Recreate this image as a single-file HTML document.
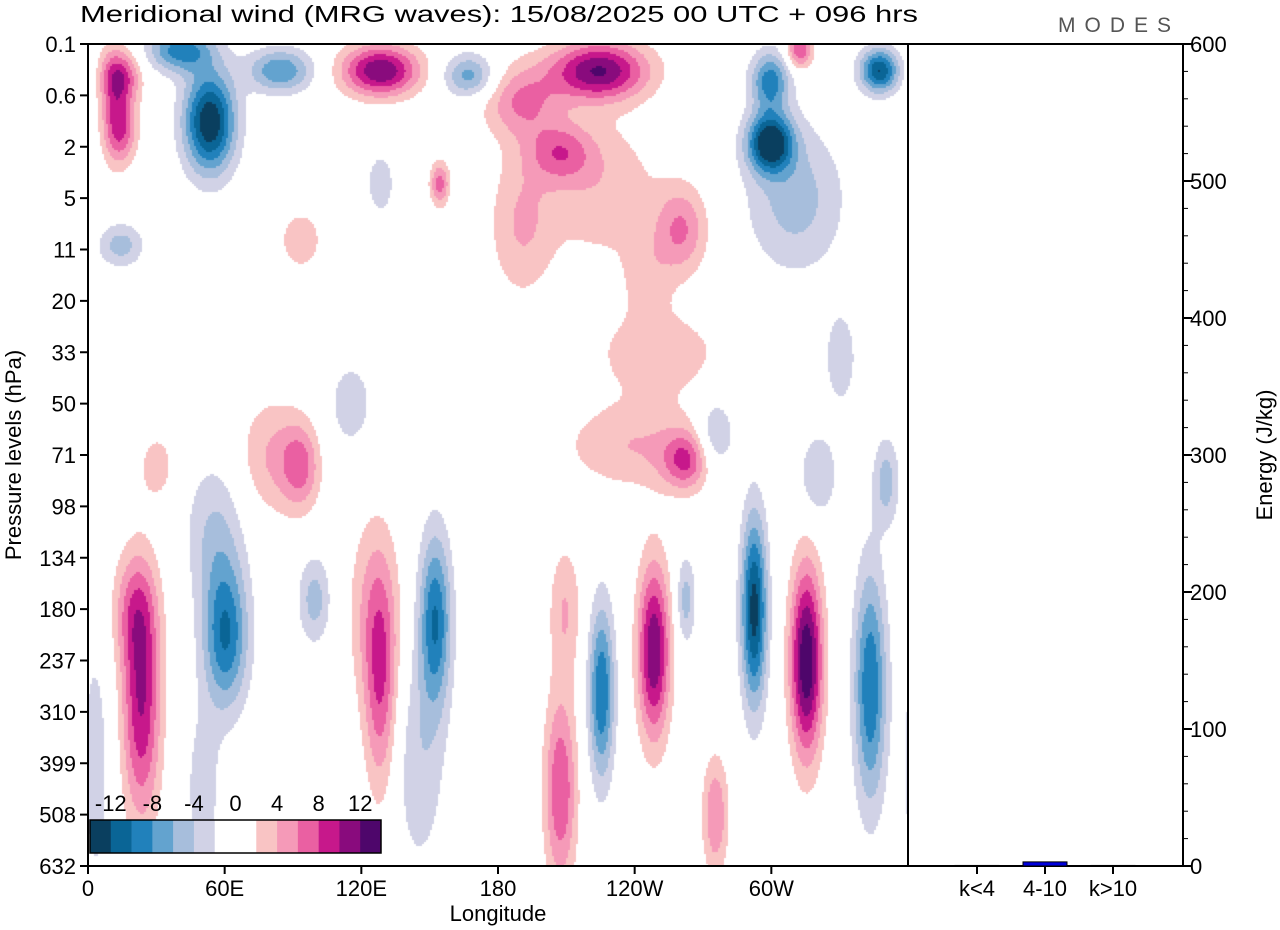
<!DOCTYPE html>
<html><head><meta charset="utf-8">
<style>
html,body{margin:0;padding:0;background:#fff;}
body{width:1280px;height:930px;position:relative;overflow:hidden;font-family:"Liberation Sans",sans-serif;}
#field{position:absolute;left:88px;top:44px;}
svg{position:absolute;left:0;top:0;}
</style></head>
<body>
<canvas id="field" width="820" height="822"></canvas>
<svg id="chart" width="1280" height="930"></svg>
<script>
// ---- data ----
const levelLabels = ['0.1','0.6','2','5','11','20','33','50','71','98','134','180','237','310','399','508','632'];
const lonTicks = [0,60,120,180,240,300];
const lonTickLabels = ['0','60E','120E','180','120W','60W'];
const energyTicks = [0,100,200,300,400,500,600];
const bandLabels = ['k<4','4-10','k>10'];
const bandEnergy = [0.4,3,0.4];
const cbLabels = ['-12','-8','-4','0','4','8','12'];
const cbColors = ['#0a3f5f','#0a6596','#2181bb','#63a3cf','#a7bedc','#d1d2e6','#ffffff','#ffffff','#f9c4c4','#f59ab8','#ea60a2','#c7188b','#890b7d','#4e066b'];
// wave blobs: lon (deg), level index, amplitude (m/s), sigma lon (deg), sigma level
const blobLon = [23,20,60,55,50,99,128,125,152,145,207,209,225,248,262,275,292,315,343,3,
 80,93,30,115,240,262,275,320,350,
 14,14,53,40,84,128,167,224,190,207,225,260,299,299,347,312,310,154,128,14,250,93,330,245,190,10];
const blobLev = [12.8,11,11.5,9.5,14.5,10.8,12.5,11,11.2,14,14.5,11,12.6,11.8,10.8,15,11,12,12.5,14,
 8,8.2,8.2,7,7.8,8.1,7.6,8.4,8.5,
 0.6,1.6,1.5,0.1,0.5,0.5,0.6,0.5,1.1,2.1,2.8,3.6,1.9,0.7,0.5,0.1,3,2.7,2.7,3.9,6,3.8,6.1,4.5,3.5,1];
const blobAmp = [10,5,-10,-4,-3,-5,7,4,-10,-3.5,8,4,-10,12,-5,6,-13,14,-10,-3,
 4,6,3,-3,4,7,-5,-4,-5,
 8,8,-14,-9,-8,12,-7,12,6,6,3.5,6,-14,-9,-12,8,-5,7,-4,-5,3.5,3,-3,2.5,4,3];
const blobSx = [6,7,7,9,6,5,5,8,5,8,5,5,4,5,3,4,4,5,5,5,
 10,6,6,8,22,7,6,6,4,
 6,5,8,10,10,12,8,15,12,10,18,8,7,6,6,4,15,3,4,7,20,8,6,8,10,4];
const blobSy = [1.6,0.8,1.0,1.0,1.2,0.6,1.5,1.3,1.2,1.5,1.3,0.9,1.2,1.2,0.6,0.8,1.3,1.3,1.6,2,
 0.8,0.6,0.5,0.7,0.6,0.4,0.5,0.6,0.6,
 0.35,0.5,0.7,0.3,0.3,0.35,0.3,0.4,0.5,0.4,1,0.6,0.4,0.4,0.3,0.25,1.0,0.3,0.4,0.3,0.6,0.5,0.8,0.6,1,0.8];

// ---- geometry ----
const X0=88,X1=908,Y0=44,Y1=866,PR=1183;
const xLon = lon => X0 + lon/360*(X1-X0);
const yLev = i => Y0 + i*(Y1-Y0)/16;
const yE = e => Y1 - e/600*(Y1-Y0);
const NS='http://www.w3.org/2000/svg';
const svg=document.getElementById('chart');
function mk(tag,attrs,parent){const e=document.createElementNS(NS,tag);for(const k in attrs)e.setAttribute(k,attrs[k]);(parent||svg).appendChild(e);return e;}
function txt(s,x,y,size,anchor,parent){const t=mk('text',{x:x,y:y,'font-size':size,'text-anchor':anchor||'middle','font-family':'Liberation Sans, sans-serif',fill:'#000'},parent);t.textContent=s;return t;}

// ---- field ----
const cv=document.getElementById('field'),ctx=cv.getContext('2d');
const W=cv.width,H=cv.height,img=ctx.createImageData(W,H);
const rgb=cbColors.map(c=>[parseInt(c.substr(1,2),16),parseInt(c.substr(3,2),16),parseInt(c.substr(5,2),16)]);
const step=2;
for(let py=0;py<H;py+=step){
  const lev=py/(H)*16;
  for(let px=0;px<W;px+=step){
    const lon=px/W*360;
    let v=0;
    for(let b=0;b<blobLon.length;b++){
      let dx=lon-blobLon[b]; if(dx>180)dx-=360; if(dx<-180)dx+=360;
      dx/=blobSx[b]; const dy=(lev-blobLev[b])/blobSy[b];
      const q=dx*dx+dy*dy; if(q<16) v+=blobAmp[b]*Math.exp(-0.5*q);
    }
    let bin=Math.floor(v/2)+7; if(bin<0)bin=0; if(bin>13)bin=13;
    const c=rgb[bin];
    for(let yy=py;yy<Math.min(py+step,H);yy++)for(let xx=px;xx<Math.min(px+step,W);xx++){
      const o=(yy*W+xx)*4; img.data[o]=c[0];img.data[o+1]=c[1];img.data[o+2]=c[2];img.data[o+3]=255;}
  }
}
ctx.putImageData(img,0,0);

// ---- title & logo ----
const title=txt('Meridional wind (MRG waves):  15/08/2025  00 UTC  + 096 hrs',80,22,23,'start');
title.setAttribute('textLength','838');title.setAttribute('lengthAdjust','spacingAndGlyphs');

const logo=txt('MODES',1058,32,21,'start');logo.setAttribute('fill','#555');logo.setAttribute('letter-spacing','9');


// ---- frames ----
const frame=mk('rect',{x:X0,y:Y0,width:PR-X0,height:Y1-Y0,fill:'none',stroke:'#000','stroke-width':2});

const div=mk('line',{x1:X1,y1:Y0,x2:X1,y2:Y1,stroke:'#000','stroke-width':2});


// ---- left axis ----
const ya=mk('g',{});
levelLabels.forEach((l,i)=>{const y=yLev(i);mk('line',{x1:X0-8,y1:y,x2:X0,y2:y,stroke:'#000','stroke-width':2},ya);txt(l,X0-12,y+8,22,'end',ya);});
const yt=txt('Pressure levels (hPa)',0,0,22,'middle');yt.setAttribute('transform','translate(21,455) rotate(-90)');


// ---- bottom axis ----
const xa=mk('g',{});
lonTicks.forEach((l,i)=>{const x=xLon(l);mk('line',{x1:x,y1:Y1,x2:x,y2:Y1+8,stroke:'#000','stroke-width':2},xa);txt(lonTickLabels[i],x,Y1+30,22,'middle',xa);});
const xt=txt('Longitude',498,921,22,'middle');

// ---- right energy axis ----
const ea=mk('g',{});
for(let e=0;e<=600;e+=20){const y=yE(e);const major=e%100===0;mk('line',{x1:PR,y1:y,x2:PR+(major?9:5),y2:y,stroke:'#000','stroke-width':major?2:1},ea);}
energyTicks.forEach(e=>txt(String(e),PR+7,yE(e)+8,22,'start',ea));
const et=txt('Energy (J/kg)',0,0,22,'middle');et.setAttribute('transform','translate(1272,455) rotate(-90)');


// ---- energy bars ----
const bandX=b=>977+b*68;
bandLabels.forEach((l,b)=>{
  const x=bandX(b);
  mk('line',{x1:x,y1:Y1,x2:x,y2:Y1+8,stroke:'#000','stroke-width':2});
  const t=txt(l,x,Y1+30,22,'middle');
  const h=Math.max(Y1-yE(bandEnergy[b]),0.5);
  const r=mk('rect',{x:x-22,y:Y1-h,width:44,height:h,fill:b===1?'#0000dd':'#333',stroke:'#000','stroke-width':1});
  
});

// ---- colorbar ----
const cb=mk('g',{});
const cbx=90,cbw=291/14;
cbColors.forEach((c,i)=>mk('rect',{x:cbx+i*cbw,y:820,width:cbw+0.3,height:33,fill:c},cb));
mk('rect',{x:cbx,y:820,width:291,height:33,fill:'none',stroke:'#000','stroke-width':1.5},cb);
cbLabels.forEach((l,i)=>txt(l,cbx+(1+2*i)*cbw,811,22,'middle',cb));
</script>
</body></html>
